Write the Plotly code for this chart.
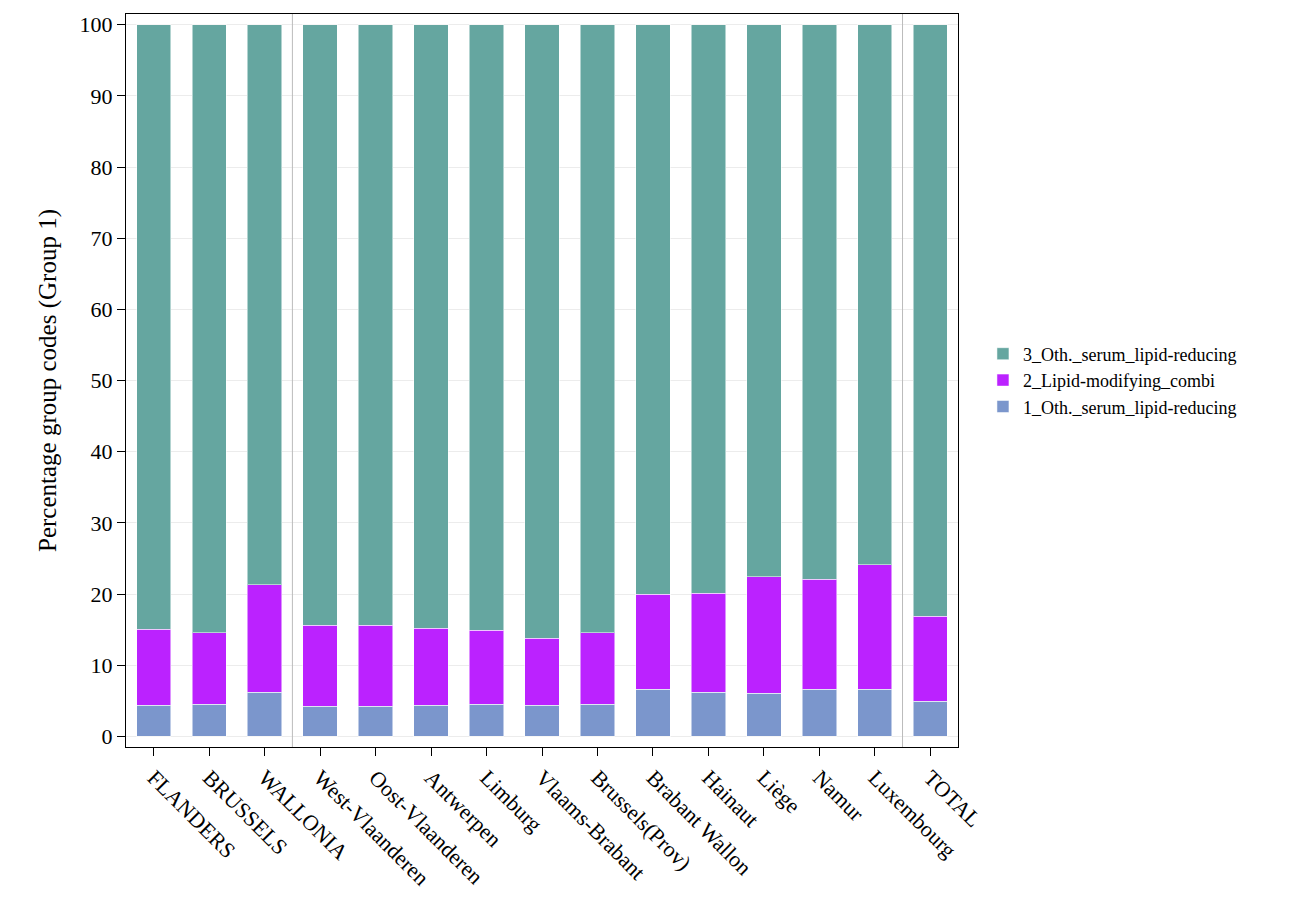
import plotly.graph_objects as go

regions = ["FLANDERS", "BRUSSELS", "WALLONIA", "West-Vlaanderen", "Oost-Vlaanderen",
           "Antwerpen", "Limburg", "Vlaams-Brabant", "Brussels(Prov)", "Brabant Wallon",
           "Hainaut", "Liège", "Namur", "Luxembourg", "TOTAL"]
grp1 = [4.4, 4.5, 6.2, 4.2, 4.2, 4.4, 4.5, 4.4, 4.5, 6.6, 6.2, 6.05, 6.6, 6.6, 4.9]
top2 = [15.07, 14.55, 21.3, 15.6, 15.6, 15.2, 14.9, 13.8, 14.55, 20.0, 20.1, 22.4, 22.1, 24.1, 16.9]
grp2 = [round(t - a, 2) for t, a in zip(top2, grp1)]
grp3 = [round(100 - t, 2) for t in top2]

fig = go.Figure()
series = [("1_Oth._serum_lipid-reducing", grp1, "#7b96cc"),
          ("2_Lipid-modifying_combi", grp2, "#bb22ff"),
          ("3_Oth._serum_lipid-reducing", grp3, "#65a6a0")]
for name, vals, col in series:
    fig.add_trace(go.Bar(x=regions, y=vals, name=name, marker_color=col,
                         marker_line=dict(color="rgba(255,255,255,0.5)", width=1)))

# separators
for xpos in [2.5, 13.5]:
    fig.add_vline(x=xpos, line_color="#bbbbbb", line_width=1)

fig.update_layout(
    barmode="stack", bargap=0.38,
    width=1308, height=915,
    paper_bgcolor="white", plot_bgcolor="white",
    font=dict(family="Liberation Serif", size=22, color="black"),
    margin=dict(l=118, r=358, t=4, b=176),
    legend=dict(x=1.03, y=0.5, yanchor="middle", traceorder="reversed",
                font=dict(size=18)),
    showlegend=True,
)
fig.update_xaxes(tickangle=45, showline=True, linecolor="black", mirror=True,
                 ticks="outside", ticklen=8, tickcolor="black", tickfont=dict(size=22))
fig.update_yaxes(range=[-1.5, 101.5], dtick=10, showline=True, linecolor="black", mirror=True,
                 ticks="outside", ticklen=8, tickcolor="black", gridcolor="#ececec",
                 zeroline=False, tickfont=dict(size=22),
                 title=dict(text="Percentage group codes (Group 1)", font=dict(size=25)))
fig.write_html("out.html")
